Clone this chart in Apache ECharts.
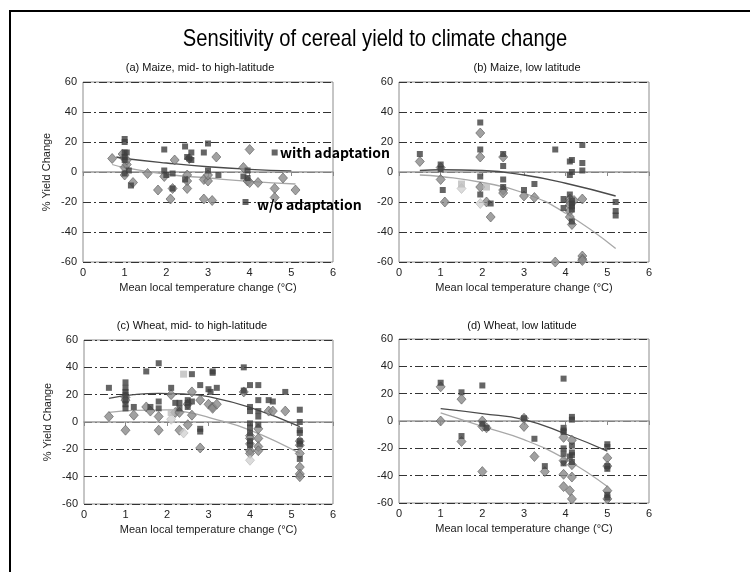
<!DOCTYPE html>
<html><head><meta charset="utf-8">
<script src="https://cdn.jsdelivr.net/npm/echarts@6/dist/echarts.min.js"></script>
<style>html,body{margin:0;padding:0;background:#fff}#c{width:750px;height:572px}</style>
</head><body><div id="c"></div>
<script>
// ---- Tick labels ----
const yTickValues = [-60, -40, -20, 0, 20, 40, 60];
const xTickValues = [0, 1, 2, 3, 4, 5, 6];

// ---- Panel titles ----
const panelTitles = [
  "(a) Maize, mid- to high-latitude",
  "(b) Maize, low latitude",
  "(c) Wheat, mid- to high-latitude",
  "(d) Wheat, low latitude"
];

// ---- (a) Maize, mid- to high-latitude ----
const aSquares = [[1.0,22],[1.0,20],[1.0,13],[1.05,13],[1.0,10],[1.0,8],[1.0,-1],[1.1,1],[1.15,-9],
  [1.95,15],[1.95,1],[2.0,-2],[2.15,-11],[2.15,-1],[2.45,17],[2.5,10],[2.55,9],[2.6,13],[2.6,8],[2.45,-5],
  [2.9,13],[3.0,19],[3.0,1],[3.25,-2],[3.85,-3],[3.95,1],[3.95,-4],[3.9,-20],[4.6,13]];
const aDiamonds = [[0.7,9],[0.95,12],[1.0,9],[1.0,3],[1.0,-2],[1.05,5],[1.05,8],[1.2,-7],[1.55,-1],[1.8,-12],
  [1.95,-3],[2.1,-18],[2.15,-11],[2.2,8],[2.5,-2],[2.5,-6],[2.5,-11],[2.55,9],[2.9,-5],[2.9,-18],[3.0,-6],
  [3.0,-2],[3.1,-19],[3.2,10],[3.85,3],[3.95,-6],[4.0,15],[4.0,-7],[4.2,-7],[4.6,-11],[4.6,-17],[4.8,-4],[5.1,-12]];
const aLightSquares = [];
const aLightDiamonds = [];
const aTrendWith = [[0.8,10],[1,9],[2,6],[3,3.5],[4,1.8],[5,0.8]];
const aTrendWithout = [[0.7,5],[1,3],[2,-1.5],[3,-4],[4,-6.3],[5.1,-8]];

// ---- (b) Maize, low latitude ----
const bSquares = [[0.5,12],[1.0,5],[1.0,2],[1.05,-12],[1.95,33],[1.95,15],[1.95,-3],[1.95,-15],[2.2,-21],
  [2.5,12],[2.5,4],[2.5,-5],[2.5,-10],[3.0,-12],[3.25,-8],[3.75,15],[3.95,-18],[3.95,-24],[4.1,7],[4.15,8],
  [4.15,0],[4.1,-2],[4.1,-15],[4.15,-19],[4.15,-21],[4.15,-23],[4.15,-25],[4.15,-33],[4.4,18],[4.4,6],[4.4,1],
  [5.2,-20],[5.2,-26],[5.2,-29]];
const bDiamonds = [[0.5,7],[1.0,3],[1.0,-5],[1.1,-20],[1.95,26],[1.95,10],[1.95,-10],[2.1,-20],[2.2,-30],
  [2.5,10],[2.5,-12],[2.5,-14],[3.0,-16],[3.25,-17],[3.75,-60],[4.1,-18],[4.1,-20],[4.1,-22],[4.1,-26],
  [4.1,-30],[4.15,-35],[4.2,-19],[4.4,-18],[4.4,-56],[4.4,-58],[4.4,-59]];
const bLightSquares = [[1.5,-8],[2.1,-10]];
const bLightDiamonds = [[1.5,-11],[1.95,-21]];
const bTrendWith = [[0.5,1],[1,1.5],[2,1],[3,-2],[4,-7.5],[5.2,-16]];
const bTrendWithout = [[0.5,-2],[1,-3],[2,-7],[3,-14],[4,-27.5],[5.2,-51]];

// ---- (c) Wheat, mid- to high-latitude ----
const cSquares = [[0.6,25],[1.0,29],[1.0,25],[1.0,22],[1.0,20],[1.0,16],[1.0,13],[1.0,10],[1.2,11],[1.5,37],
  [1.6,11],[1.8,43],[1.8,15],[1.8,10],[2.1,25],[2.2,14],[2.3,14],[2.3,10],[2.5,16],[2.5,14],[2.5,11],[2.6,35],
  [2.6,15],[2.8,27],[2.8,-5],[2.8,-7],[3.0,24],[3.05,22],[3.1,37],[3.1,36],[3.2,25],[3.85,40],[3.85,23],
  [4.0,27],[4.0,11],[4.0,8],[4.0,-1],[4.0,-4],[4.0,-8],[4.0,-14],[4.0,-17],[4.2,27],[4.2,16],[4.2,8],[4.2,4],
  [4.2,-2],[4.45,16],[4.55,15],[4.85,22],[5.2,9],[5.2,0],[5.2,-6],[5.2,-8],[5.2,-14],[5.2,-16],[5.2,-27]];
const cDiamonds = [[0.6,4],[1.0,18],[1.0,16],[1.0,-6],[1.2,5],[1.5,11],[1.6,8],[1.8,4],[1.8,-6],[2.1,20],
  [2.2,7],[2.3,7],[2.3,-6],[2.5,-2],[2.5,13],[2.6,22],[2.6,5],[2.8,16],[2.8,-19],[3.0,13],[3.1,11],[3.1,10],
  [3.2,13],[3.85,22],[4.0,-10],[4.0,-12],[4.0,-16],[4.0,-21],[4.0,-23],[4.2,-5],[4.2,-12],[4.2,-18],[4.2,-21],
  [4.45,8],[4.55,8],[4.85,8],[5.2,-14],[5.2,-17],[5.2,-23],[5.2,-33],[5.2,-38],[5.2,-40]];
const cLightSquares = [[2.1,7],[2.4,35]];
const cLightDiamonds = [[2.1,2],[2.4,-8],[4.0,-28]];
const cTrendWith = [[0.6,17.3],[1.2,20],[1.8,21],[2.4,20.5],[3,18.5],[4,10.7],[5.2,-3.4]];
const cTrendWithout = [[0.6,7],[1.2,8.5],[2,8.8],[2.5,7],[3,3.4],[4,-5.9],[5.2,-23]];

// ---- (d) Wheat, low latitude ----
const dSquares = [[1.0,28],[1.5,21],[1.5,-11],[2.0,26],[2.0,-2],[2.1,-5],[3.0,2],[3.25,-13],[3.5,-33],
  [3.95,31],[3.95,-5],[3.95,-7],[3.95,-8],[3.95,-20],[3.95,-24],[3.95,-31],[4.15,3],[4.15,1],[4.15,-18],
  [4.15,-23],[4.15,-25],[4.1,-26],[4.15,-30],[5.0,-17],[5.0,-19],[5.0,-33],[5.0,-35],[5.0,-54],[5.0,-56]];
const dDiamonds = [[1.0,25],[1.0,0],[1.5,16],[1.5,-15],[2.0,0],[2.0,-4],[2.0,-37],[2.1,-5],[3.0,2],[3.0,-4],
  [3.25,-26],[3.5,-37],[3.95,-12],[3.95,-29],[3.95,-39],[3.95,-48],[4.15,-14],[4.15,-32],[4.15,-41],[4.1,-51],
  [4.15,-57],[5.0,-27],[5.0,-33],[5.0,-51],[5.0,-57]];
const dLightSquares = [];
const dLightDiamonds = [];
const dTrendWith = [[1,9],[2,5.4],[3,1],[4,-9.5],[5,-22]];
const dTrendWithout = [[1,5.9],[2,-4],[3,-13.7],[4,-28],[5,-48]];

const panels = [
  {sq:aSquares, di:aDiamonds, lsq:aLightSquares, ldi:aLightDiamonds, tw:aTrendWith, two:aTrendWithout},
  {sq:bSquares, di:bDiamonds, lsq:bLightSquares, ldi:bLightDiamonds, tw:bTrendWith, two:bTrendWithout},
  {sq:cSquares, di:cDiamonds, lsq:cLightSquares, ldi:cLightDiamonds, tw:cTrendWith, two:cTrendWithout},
  {sq:dSquares, di:dDiamonds, lsq:dLightSquares, ldi:dLightDiamonds, tw:dTrendWith, two:dTrendWithout}
];

const boxes = [
  {left:83, top:82, width:250, height:180},
  {left:399, top:82, width:250, height:180},
  {left:84, top:340, width:249, height:164},
  {left:399, top:339, width:250, height:164}
];

const FONT = "Liberation Sans, Arial, sans-serif";
const grid = [], xAxis = [], yAxis = [], series = [], graphic = [];

boxes.forEach((b, i) => {
  grid.push({left:b.left, top:b.top, width:b.width, height:b.height, show:true, borderColor:'#8c8c8c', borderWidth:1, backgroundColor:'transparent'});
  xAxis.push({
    gridIndex:i, type:'value', min:xTickValues[0], max:xTickValues[xTickValues.length-1], interval:1,
    axisLine:{show:false}, axisTick:{show:false}, splitLine:{show:false},
    axisLabel:{fontFamily:FONT, fontSize:11, color:'#222', margin:5},
    name:'Mean local temperature change (°C)', nameLocation:'middle', nameGap:20,
    nameTextStyle:{fontFamily:FONT, fontSize:11, color:'#222'}
  });
  xAxis.push({
    gridIndex:i, type:'value', min:0, max:6, interval:1, position:'bottom', offset:-b.height/2,
    axisLine:{show:true, onZero:false, lineStyle:{color:'#9a9a9a', width:1.5}},
    axisTick:{show:true, length:4, inside:false, lineStyle:{color:'#8a8a8a', width:1}},
    axisLabel:{show:false}, splitLine:{show:false}
  });
  yAxis.push({
    gridIndex:i, type:'value', min:yTickValues[0], max:yTickValues[yTickValues.length-1], interval:20,
    axisLine:{show:false}, axisTick:{show:false},
    axisLabel:{fontFamily:FONT, fontSize:11, color:'#222', margin:6},
    splitLine:{show:true, lineStyle:{color:'#333', width:1, type:[8,3,2,3]}},
    name:(i % 2 === 0) ? '% Yield Change' : '', nameLocation:'middle', nameGap:31, nameRotate:90,
    nameTextStyle:{fontFamily:FONT, fontSize:11, color:'#222'}
  });
  const p = panels[i];
  const xi = i * 2;
  series.push({type:'line', xAxisIndex:xi, yAxisIndex:i, data:p.two, smooth:true, showSymbol:false, z:2,
    lineStyle:{color:'#a8a8a8', width:1.3}});
  series.push({type:'line', xAxisIndex:xi, yAxisIndex:i, data:p.tw, smooth:true, showSymbol:false, z:2,
    lineStyle:{color:'#4a4a4a', width:1.3}});
  series.push({type:'scatter', xAxisIndex:xi, yAxisIndex:i, data:p.di, symbol:'diamond', symbolSize:[9,10], z:3,
    itemStyle:{color:'#8a8a8a', borderColor:'#5e5e5e', borderWidth:0.8}});
  series.push({type:'scatter', xAxisIndex:xi, yAxisIndex:i, data:p.sq, symbol:'rect', symbolSize:6, z:4,
    itemStyle:{color:'#3e3e3e'}});
  series.push({type:'scatter', xAxisIndex:xi, yAxisIndex:i, data:p.ldi, symbol:'diamond', symbolSize:[9,10], z:3,
    itemStyle:{color:'#d2d2d2', borderColor:'#b8b8b8', borderWidth:0.8}});
  series.push({type:'scatter', xAxisIndex:xi, yAxisIndex:i, data:p.lsq, symbol:'rect', symbolSize:7, z:4,
    itemStyle:{color:'#bdbdbd'}});
});

const titlePos = [[200,68],[527,68],[192,326],[522,326]];
panelTitles.forEach((t, i) => {
  graphic.push({type:'text', x:titlePos[i][0], y:titlePos[i][1], z:10,
    style:{text:t, fontFamily:FONT, fontSize:11, fill:'#111', textAlign:'center', textVerticalAlign:'middle'}});
});
graphic.push({type:'text', x:375, y:39, scaleX:0.84, z:10,
  style:{text:'Sensitivity of cereal yield to climate change', fontFamily:FONT,
    fontSize:24, fill:'#000', textAlign:'center', textVerticalAlign:'middle'}});
graphic.push({type:'text', x:280, y:153, z:10,
  style:{text:'with adaptation', fontFamily:"Noto Sans CJK JP, sans-serif", fontWeight:'bold', fontSize:14, fill:'#000', textAlign:'left', textVerticalAlign:'middle'}});
graphic.push({type:'text', x:257, y:205, z:10,
  style:{text:'w/o adaptation', fontFamily:"Noto Sans CJK JP, sans-serif", fontWeight:'bold', fontSize:14, fill:'#000', textAlign:'left', textVerticalAlign:'middle'}});
graphic.push({type:'rect', shape:{x:10, y:11, width:800, height:700}, z:0,
  style:{fill:'none', stroke:'#000', lineWidth:2}});

const chart = echarts.init(document.getElementById('c'), null, {renderer:'canvas'});
chart.setOption({animation:false, backgroundColor:'#fff', grid, xAxis, yAxis, series, graphic});
</script></body></html>
